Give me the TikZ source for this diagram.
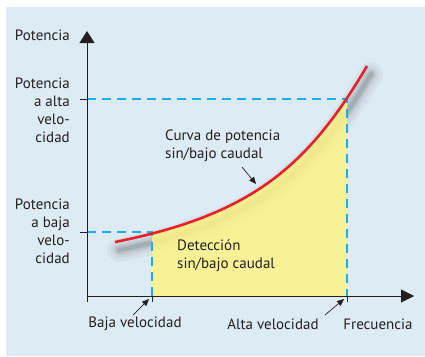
\documentclass[tikz,border=0pt]{standalone}
\usepackage{fontspec}
\setmainfont{PT Sans}
\usetikzlibrary{arrows.meta}
\definecolor{bgblue}{HTML}{DDEBF4}
\definecolor{dashblue}{HTML}{1EAEE6}
\definecolor{curvered}{HTML}{E8202A}
\definecolor{fillyel}{HTML}{FFF386}
\definecolor{ink}{HTML}{231F20}
\tikzset{
  lbl/.style={text=ink, inner sep=0pt},
  axisline/.style={draw=ink, line width=0.9pt},
  guide/.style={draw=dashblue, line width=2.1pt, dash pattern=on 9pt off 6pt},
  pointer/.style={draw=ink, line width=0.7pt, -{Triangle[width=6pt,length=7pt]}},
}
\def\curvepath{(115,242) .. controls (250,215) and (307,168) .. (367,66)}
\begin{document}
\begin{tikzpicture}[x=1pt,y=-1pt,font=\fontsize{15}{18}\selectfont]
\useasboundingbox (0,0) rectangle (425,356);
\fill[white] (0,0) rectangle (425,356);
\fill[bgblue] (6,7) rectangle (425,356);
% shadow of the curve
\begin{scope}[shift={(4,8)}]
\foreach \w/\o in {24/0.035,17/0.045,11/0.06,7/0.07,4/0.08}{
  \draw[black, opacity=\o, line width=\w pt, line cap=round] \curvepath;
}
\end{scope}
% yellow area
\begin{scope}
\clip (152,0) rectangle (347,296);
\fill[fillyel, opacity=0.85] \curvepath -- (367,296) -- (115,296) -- cycle;
\end{scope}
% named coordinates
\coordinate (O) at (87,296);
\coordinate (ytop) at (87,31);
\coordinate (xend) at (414,296);
\coordinate (hiY) at (87,99);
\coordinate (loY) at (87,232);
\coordinate (hiP) at (347,99);
\coordinate (loP) at (152,232);
\coordinate (hiX) at (347,296);
\coordinate (loX) at (152,296);
% guides
\draw[guide] (hiY) -- (hiP) -- (hiX);
\draw[guide] (loY) -- (loP) -- (loX);
% curve
\draw[curvered, line width=2.6pt] \curvepath;
% axes
\draw[axisline, -{Triangle[width=15pt,length=12pt]}] (O) -- (ytop);
\draw[axisline, -{Triangle[width=13pt,length=13pt]}] (O) -- (xend);
\draw[axisline] (O) -- ++(0,6);
\draw[axisline] (loX) -- ++(0,6);
\draw[axisline] (hiX) -- ++(0,6);
\draw[axisline] (hiY) -- ++(-7,0);
\draw[axisline] (loY) -- ++(-7,0);
% labels
\node[lbl, anchor=east] (pot) at (70,35) {Potencia};
\node[lbl, anchor=east, align=right] (palta) at (70,110) {Potencia\\a alta\\velo-\\cidad};
\node[lbl, anchor=east, align=right] (pbaja) at (70,231) {Potencia\\a baja\\velo-\\cidad};
\node[lbl, anchor=west, align=left] (curva) at (165,146) {Curva de potencia\\sin/bajo caudal};
\node[lbl, anchor=west, align=left] (detec) at (177,256) {Detección\\sin/bajo caudal};
\node[lbl] (baja) at (135,324) {Baja velocidad};
\node[lbl] (alta) at (273,324) {Alta velocidad};
\node[lbl] (frec) at (378,324) {Frecuencia};
% pointers
\coordinate (c1) at (242,167);
\coordinate (c2) at (256,184);
\coordinate (b1) at (133,315);
\coordinate (b2) at (149,299);
\coordinate (a1) at (325,315);
\coordinate (a2) at (344,299);
\draw[pointer] (c1) -- (c2);
\draw[pointer] (b1) -- (b2);
\draw[pointer] (a1) -- (a2);
\end{tikzpicture}
\end{document}
